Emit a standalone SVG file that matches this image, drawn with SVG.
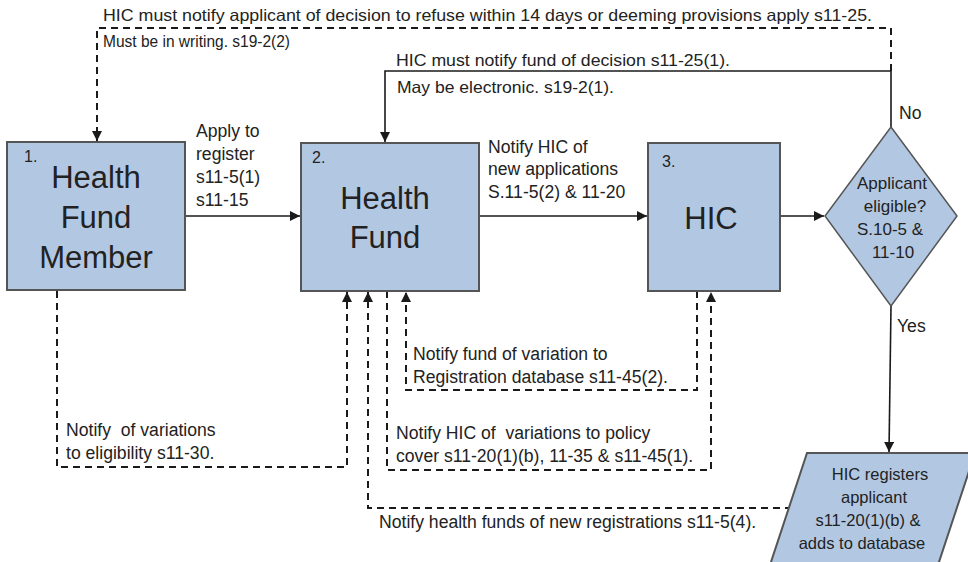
<svg xmlns="http://www.w3.org/2000/svg" width="968" height="562" viewBox="0 0 968 562">
<defs>
<marker id="ah" viewBox="0 0 10 10" refX="10" refY="5" markerWidth="10" markerHeight="10" markerUnits="userSpaceOnUse" orient="auto">
<path d="M0,0 L10,5 L0,10 z" fill="#1a1a1a"/>
</marker>
<style>
.box{fill:#b2c8e2;stroke:#555;stroke-width:2}
.sol{fill:none;stroke:#1a1a1a;stroke-width:1.6}
.dash{fill:none;stroke:#1a1a1a;stroke-width:2;stroke-dasharray:7,5}
text{font-family:"Liberation Sans",Arial,sans-serif;fill:#222}
.big{font-size:31px;text-anchor:middle}
.num{font-size:16px}
.lbl{font-size:17.6px}
.top{font-size:16.5px}
.mid{font-size:16.5px;text-anchor:middle}
.dia{font-size:17px;text-anchor:middle}
</style>
</defs>
<rect width="968" height="562" fill="#fff"/>

<g id="connectors">
<path class="sol" d="M185,216 H300" marker-end="url(#ah)"/>
<path class="sol" d="M479,216 H647" marker-end="url(#ah)"/>
<path class="sol" d="M780,216 H824" marker-end="url(#ah)"/>
<path class="sol" d="M891,127 V71 H385 V142" marker-end="url(#ah)"/>
<path class="dash" d="M891,71 V28 H97 V141" marker-end="url(#ah)"/>
<path class="sol" d="M891,306 L889,452" marker-end="url(#ah)"/>
<path class="dash" d="M57,291 V467 H347 V292" marker-end="url(#ah)"/>
<path class="dash" d="M792,508 H368 V292" marker-end="url(#ah)"/>
<path class="dash" d="M387,291 V470 H711 V292" marker-end="url(#ah)"/>
<path class="dash" d="M697,291 V390 H406 V292" marker-end="url(#ah)"/>
<text x="103" y="21" class="top" textLength="769" lengthAdjust="spacingAndGlyphs">HIC must notify applicant of decision to refuse within 14 days or deeming provisions apply s11-25.</text>
<text x="103" y="47" class="top" textLength="187" lengthAdjust="spacingAndGlyphs">Must be in writing. s19-2(2)</text>
<text x="396" y="66" class="top" textLength="334" lengthAdjust="spacingAndGlyphs">HIC must notify fund of decision s11-25(1).</text>
<text x="397" y="93" class="top" textLength="217" lengthAdjust="spacingAndGlyphs">May be electronic. s19-2(1).</text>
<text x="899" y="119" class="lbl">No</text>
<text x="897" y="332" class="lbl">Yes</text>
<text class="lbl" x="196"><tspan x="196" y="137">Apply to</tspan><tspan x="196" y="160">register</tspan><tspan x="196" y="183">s11-5(1)</tspan><tspan x="196" y="206">s11-15</tspan></text>
<text class="lbl" x="488"><tspan x="488" y="153">Notify HIC of</tspan><tspan x="488" y="175">new applications</tspan><tspan x="488" y="198">S.11-5(2) &amp; 11-20</tspan></text>
<text class="lbl" x="66" xml:space="preserve"><tspan x="66" y="436">Notify  of variations</tspan><tspan x="66" y="459">to eligibility s11-30.</tspan></text>
<text class="lbl" x="413"><tspan x="413" y="360">Notify fund of variation to</tspan><tspan x="413" y="383">Registration database s11-45(2).</tspan></text>
<text class="lbl" x="396" xml:space="preserve"><tspan x="396" y="439">Notify HIC of  variations to policy</tspan><tspan x="396" y="462">cover s11-20(1)(b), 11-35 &amp; s11-45(1).</tspan></text>
<text class="lbl" x="379" y="528">Notify health funds of new registrations s11-5(4).</text>
</g>

<g id="node1">
<rect class="box" x="7" y="142" width="178" height="148"/>
<text class="num" x="24" y="162">1.</text>
<text class="big" x="96" y="188">Health</text>
<text class="big" x="96" y="228">Fund</text>
<text class="big" x="96" y="268">Member</text>
</g>

<g id="node2">
<rect class="box" x="301" y="143" width="178" height="148"/>
<text class="num" x="312" y="163">2.</text>
<text class="big" x="385" y="209">Health</text>
<text class="big" x="385" y="248">Fund</text>
</g>

<g id="node3">
<rect class="box" x="648" y="143" width="132" height="148"/>
<text class="num" x="662" y="167">3.</text>
<text class="big" x="711" y="229">HIC</text>
</g>

<g id="decision">
<path class="box" style="stroke-width:1.5" d="M891,127 L957,216 L891,306 L825,216 z"/>
<text class="dia" x="892" y="189">Applicant</text>
<text class="dia" x="895" y="212">eligible?</text>
<text class="dia" x="890" y="235">S.10-5 &amp;</text>
<text class="dia" x="893" y="258">11-10</text>
</g>

<g id="register">
<path class="box" d="M807,453 L975,453 L938,565 L770,565 z"/>
<text class="mid" x="880" y="480">HIC registers</text>
<text class="mid" x="874" y="503">applicant</text>
<text class="mid" x="868" y="526">s11-20(1)(b) &amp;</text>
<text class="mid" x="862" y="549">adds to database</text>
</g>
</svg>
